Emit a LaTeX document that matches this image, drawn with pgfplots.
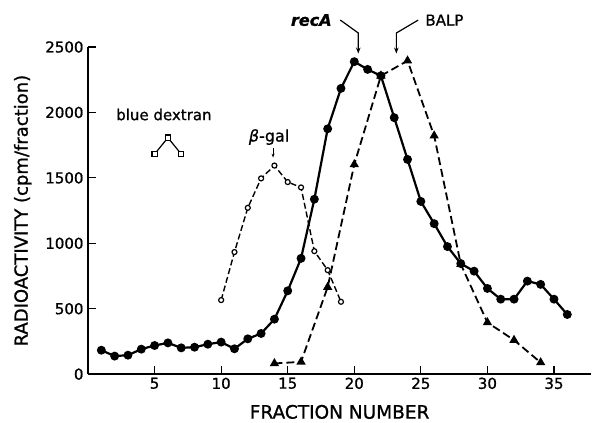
\documentclass[border=0pt]{standalone}
\usepackage{fontspec}
\setmainfont{DejaVu Sans}[FakeBold=1.0]
\usepackage{pgfplots}
\pgfplotsset{compat=1.18}
\usetikzlibrary{arrows.meta}
\begin{document}
\begin{tikzpicture}
\begin{axis}[
  scale only axis, width=503pt, height=327pt,
  xmin=0, xmax=37.8, ymin=0, ymax=2500,
  axis lines*=left,
  xtick={5,10,...,35}, ytick={0,500,...,2500},
  tick align=inside, major tick length=8pt,
  tick style={line width=1.2pt, black},
  axis line style={line width=1.5pt},
  ticklabel style={font=\fontsize{15}{15}\selectfont},
  yticklabel style={xshift=-1pt},
  /pgf/number format/assume math mode=true,
  /pgf/number format/1000 sep={},
  xlabel={\fontsize{18.5}{18.5}\selectfont FRACTION NUMBER},
  ylabel={\fontsize{18}{18}\selectfont RADIOACTIVITY (cpm/fraction)},
  xlabel style={yshift=-9pt},
  ylabel style={yshift=7pt},
  clip=false,
]
% BALP
\addplot[black, line width=1.8pt, dash pattern=on 8pt off 4pt, mark=triangle*, mark size=3.6pt, mark options={solid}]
  coordinates {(14,82)(16,94)(18,665)(20,1603)(22,2280)(24,2395)(26,1822)(28,840)(30,395)(32,260)(34,89)};
% beta-gal
\addplot[black, line width=1.4pt, dash pattern=on 6pt off 3pt, mark=*, mark size=2.5pt, mark options={solid, fill=white, line width=1.2pt}]
  coordinates {(10,566)(11,933)(12,1271)(13,1496)(14,1594)(15,1468)(16,1427)(17,940)(18,795)(19,553)};
% recA
\addplot[black, line width=2.2pt, mark=*, mark size=3.3pt, mark options={solid}]
  coordinates {(1,183)(2,138)(3,145)(4,191)(5,219)(6,239)(7,201)(8,206)(9,229)(10,245)(11,194)(12,270)(13,311)(14,420)(15,637)(16,885)(17,1337)(18,1875)(19,2184)(20,2388)(21,2329)(22,2280)(23,1960)(24,1641)(25,1320)(26,1150)(27,975)(28,845)(29,787)(30,655)(31,573)(32,573)(33,711)(34,686)(35,573)(36,456)};
% blue dextran
\addplot[black, line width=1.2pt, mark=square*, mark size=2.6pt, mark options={fill=white, line width=1.2pt}]
  coordinates {(5,1682)(6,1807)(7,1682)};
% annotations
\node[font=\fontsize{15}{15}\selectfont] at (axis cs:5.7,1984) {blue dextran};
\node[font=\fontsize{16}{16}\selectfont] at (axis cs:13.6,1812) {{\itshape β}-gal};
\draw[-{Stealth[length=4pt]}, line width=1pt] (axis cs:13.9,1728) -- (axis cs:13.9,1655);
\node[font=\fontsize{16}{16}\selectfont\bfseries\itshape] at (axis cs:16.77,2706) {recA};
\node[font=\fontsize{15}{15}\selectfont] at (axis cs:26.77,2706) {BALP};
\draw[-{Stealth[length=6pt]}, line width=1.2pt] (axis cs:18.95,2706) -- (axis cs:20.3,2607) -- (axis cs:20.3,2450);
\draw[-{Stealth[length=6pt]}, line width=1.2pt] (axis cs:24.8,2706) -- (axis cs:23.16,2607) -- (axis cs:23.16,2450);
% bounding box to reference proportions
\path (axis cs:0,0) ++(-88pt,-48pt);
\path (axis cs:37.8,2500) ++(0pt,47pt);
\end{axis}
\end{tikzpicture}
\end{document}
